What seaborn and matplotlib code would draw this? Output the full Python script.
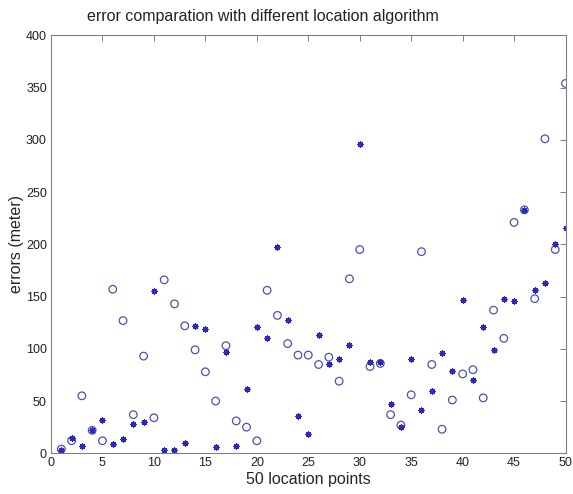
import matplotlib
matplotlib.use("Agg")
import matplotlib.pyplot as plt
import seaborn as sns
import pandas as pd

# 50 location points, errors of the two algorithms
points = list(range(1, 51))
err_circle = [4, 12, 55, 22, 12, 157, 127, 37, 93, 34,
              166, 143, 122, 99, 78, 50, 103, 31, 25, 12,
              156, 132, 105, 94, 94, 85, 92, 69, 167, 195,
              83, 86, 37, 27, 56, 193, 85, 23, 51, 76,
              80, 53, 137, 110, 221, 233, 148, 301, 195, 354]
err_star = [3, 15, 7, 22, 32, 9, 14, 28, 30, 155,
            3, 3, 10, 122, 119, 6, 97, 7, 62, 121,
            110, 197, 128, 36, 18, 113, 85, 90, 104, 296,
            87, 87, 47, 25, 90, 41, 60, 96, 79, 147,
            70, 121, 99, 148, 146, 233, 156, 163, 200, 216]

df = pd.DataFrame({"point": points, "circle": err_circle, "star": err_star})

sns.set_style("white")
plt.rcParams["font.family"] = ["Liberation Sans", "DejaVu Sans"]

fig = plt.figure(figsize=(5.73, 4.94), dpi=100)
ax = fig.add_axes([0.089, 0.0824, 0.898, 0.846])

# 원 마커 (속이 빈 원)
sns.scatterplot(data=df, x="point", y="circle", marker="o", s=30,
                color="#5050b0", linewidth=0.9, ax=ax)
circ = ax.collections[-1]
circ.set_facecolor("none")
circ.set_edgecolor("#5050b0")

# 별 마커
sns.scatterplot(data=df, x="point", y="star", marker=(8, 2, 0), s=16,
                color="#2a2ac0", linewidth=0.9, ax=ax)
ax.collections[-1].set_edgecolor("#2a2ac0")

ax.set_xlim(0, 50)
ax.set_ylim(0, 400)
ax.set_xticks(range(0, 51, 5))
ax.set_yticks(range(0, 401, 50))

for s in ax.spines.values():
    s.set_color("#808080")
    s.set_linewidth(0.8)
    s.set_visible(True)
ax.tick_params(direction="in", length=4, width=0.7, color="#808080",
               top=True, right=True, labelsize=9, labelcolor="#222222",
               pad=3)

ax.set_xlabel("50 location points", fontsize=11.5, labelpad=1.5)
ax.set_ylabel("errors (meter)", fontsize=11.5, labelpad=1)

fig.text(86.7 / 573, 1 - 17 / 494, "error comparation with different location algorithm",
         ha="left", va="center", fontsize=11.5, color="#222222")

fig.savefig("out.png", dpi=100)
